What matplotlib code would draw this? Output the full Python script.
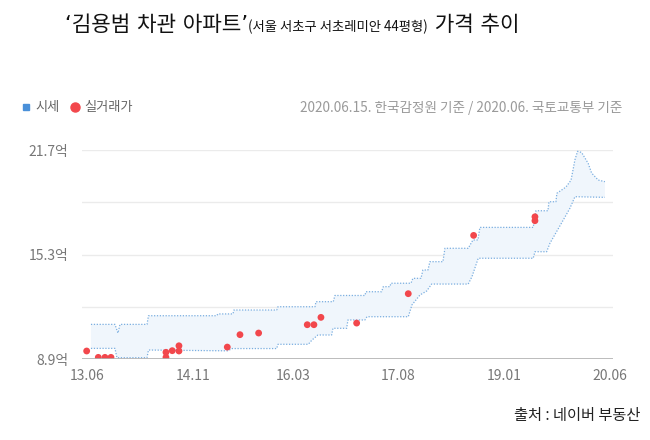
import matplotlib
matplotlib.use("Agg")
import matplotlib.pyplot as plt
from matplotlib.lines import Line2D

plt.rcParams['font.family'] = ['Noto Sans CJK KR', 'DejaVu Sans']

# x = months since 2013.06
tick_pos = [0, 17, 33, 50, 67, 84]
tick_labels = ["13.06", "14.11", "16.03", "17.08", "19.01", "20.06"]
y_ticks = [8.9, 15.3, 21.7]
y_grid = [12.1, 15.3, 18.5, 21.7]

# 시세 upper bound (억)
upper_m = [0.56, 4.42, 4.90, 5.23, 9.57, 9.81, 20.77, 20.98, 23.39, 23.55, 30.42, 30.63,
           36.58, 36.74, 39.52, 39.79, 44.61, 44.77, 47.30, 47.56, 48.63, 48.79, 52.01,
           52.33, 53.62, 53.94, 54.74, 55.06, 57.15, 57.48, 61.22, 61.98, 62.78, 63.10,
           71.67, 72.11, 74.04, 74.20, 75.32, 75.48, 76.93, 77.75, 78.38, 78.80, 79.45,
           80.51, 81.06, 82.12, 83.20]
upper_v = [11.02, 11.02, 10.49, 11.02, 11.02, 11.55, 11.55, 11.66, 11.66, 11.90, 11.90, 12.10,
           12.10, 12.41, 12.41, 12.79, 12.79, 13.02, 13.02, 13.33, 13.33, 13.54, 13.54,
           13.84, 13.84, 14.35, 14.35, 14.86, 14.86, 15.68, 15.68, 16.19, 16.19, 16.96,
           16.96, 17.98, 17.98, 18.53, 18.53, 19.05, 19.43, 19.85, 21.10, 21.62, 21.55,
           20.88, 20.29, 19.86, 19.76]

# 시세 lower bound (억)
lower_m = [0.56, 4.42, 4.74, 9.57, 9.81, 22.59, 23.23, 30.42, 30.63, 35.50, 36.09, 37.06,
           39.26, 39.47, 41.67, 41.88, 44.61, 44.94, 51.58, 52.17, 53.46, 54.53, 55.34,
           61.22, 61.82, 62.83, 71.67, 71.95, 73.83, 74.36, 75.43, 76.50, 77.57, 78.38,
           83.20]
lower_v = [9.55, 9.55, 8.98, 8.98, 9.45, 9.40, 9.54, 9.54, 9.80, 9.80, 10.06, 10.37,
           10.37, 10.78, 10.78, 11.29, 11.29, 11.49, 11.49, 12.21, 12.82, 13.06, 13.49,
           13.49, 13.94, 15.07, 15.07, 15.47, 15.47, 15.99, 16.70, 17.41, 18.13, 18.84,
           18.80]

# 실거래가 (억)
deal_m = [-0.13, 1.74, 2.81, 3.78, 12.62, 12.62, 13.63, 14.71, 14.71, 22.48, 24.52, 27.52,
          35.34, 36.41, 37.54, 43.28, 51.58, 62.09, 71.95, 71.95]
deal_v = [9.39, 9.00, 9.00, 9.00, 9.31, 9.00, 9.41, 9.71, 9.39, 9.63, 10.39, 10.49,
          11.00, 11.00, 11.45, 11.10, 12.90, 16.47, 17.61, 17.37]

W, H = 650, 440
fig = plt.figure(figsize=(6.5, 4.4), dpi=100)
ax = fig.add_axes([82 / W, 1 - 359 / H, (613 - 82) / W, (359 - 150) / H])

band_x = upper_m + lower_m[::-1]
band_y = upper_v + lower_v[::-1]
ax.fill(band_x, band_y, color="#f0f6fc", lw=0, zorder=1)
ax.plot(upper_m, upper_v, color="#7aaee0", lw=0.9, ls=(0, (1, 1.3)), zorder=2)
ax.plot(lower_m, lower_v, color="#7aaee0", lw=0.9, ls=(0, (1, 1.3)), zorder=2)
ax.scatter(deal_m, deal_v, s=24, color="#f2474c", edgecolors="none", zorder=3)

for g in y_grid:
    ax.axhline(g, color="#ebebeb", lw=1, zorder=0)
ax.axhline(8.9, color="#b0b0b0", lw=1.2, zorder=4)

ax.set_xlim(-0.88, 84.5)
ax.set_ylim(8.9, 21.7)
for s in ax.spines.values():
    s.set_visible(False)
ax.set_xticks(tick_pos)
ax.set_xticklabels(tick_labels)
ax.set_yticks(y_ticks)
ax.set_yticklabels([f"{v}억" for v in y_ticks])
ax.tick_params(length=0, labelsize=10, colors="#777777")
ax.tick_params(axis="x", pad=7)
ax.tick_params(axis="y", pad=10)

# title in three pieces
fig.canvas.draw()
r = fig.canvas.get_renderer()
pieces = [("‘김용범 차관 아파트’", 15.3, ['DejaVu Sans', 'Noto Sans CJK KR']),
          ("(서울 서초구 서초레미안 44평형)", 9.6, ['Noto Sans CJK KR']),
          (" 가격 추이", 15.3, ['DejaVu Sans', 'Noto Sans CJK KR'])]
x = 65 / W
for txt, size, fam in pieces:
    t = fig.text(x, 1 - 31 / H, txt, fontsize=size, family=fam, color="#111111",
                 ha="left", va="baseline")
    bb = t.get_window_extent(r)
    x += bb.width / W

# legend
handles = [Line2D([], [], marker="s", ls="", color="#4a90d9", markersize=4.5),
           Line2D([], [], marker="o", ls="", color="#f2474c", markersize=6.5)]
fig.legend(handles, ["시세", "실거래가"], loc="center left", bbox_to_anchor=(6 / W, 1 - 108 / H),
           ncol=2, frameon=False, fontsize=9.5, labelcolor="#666666",
           handletextpad=0.1, columnspacing=0.6, handlelength=1.2)

fig.text(622 / W, 1 - 108 / H, "2020.06.15. 한국감정원 기준 / 2020.06. 국토교통부 기준",
         fontsize=9.8, color="#9a9a9a", ha="right", va="center")
fig.text(640 / W, 1 - 415 / H, "출처 : 네이버 부동산", fontsize=11, color="#222222",
         ha="right", va="center")

fig.savefig("out.png", dpi=100)
